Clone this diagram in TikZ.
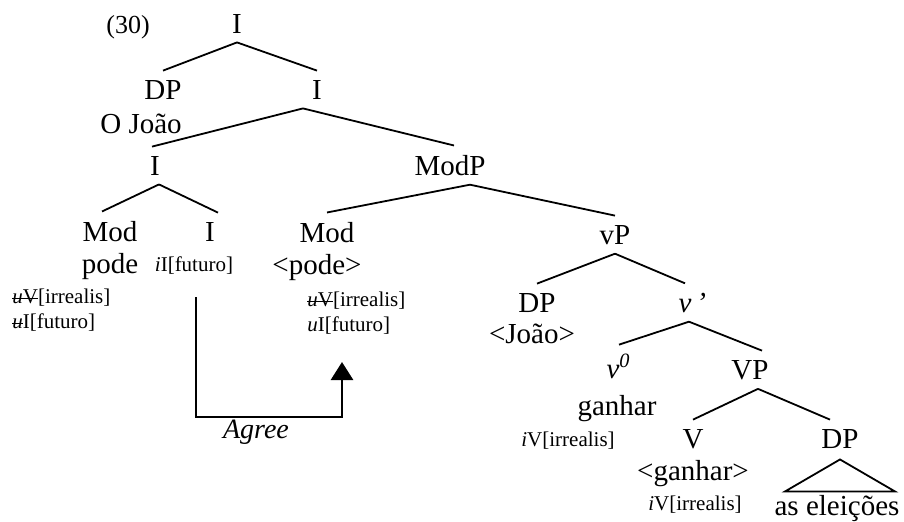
\documentclass[tikz,border=0pt]{standalone}
\usepackage{fontspec}
\setmainfont{Liberation Serif}
\usetikzlibrary{positioning,arrows.meta}
\newsavebox{\strkbox}
\newcommand{\strk}[1]{\sbox{\strkbox}{#1}\rlap{\rule[0.45ex]{\wd\strkbox}{0.5pt}}\usebox{\strkbox}}

\begin{document}
\begin{tikzpicture}[x=0.5pt, y=-0.5pt,
    cat/.style={font=\fontsize{14.5}{17}\selectfont, inner sep=4.5pt, anchor=base},
    lex/.style={font=\fontsize{14.5}{17}\selectfont, inner sep=1pt, anchor=base},
    feat/.style={font=\fontsize{10.5}{12}\selectfont, inner sep=1pt, anchor=base},
    branch/.style={line width=0.9pt},
    agree/.style={line width=1.4pt, -{Triangle[length=9pt,width=11pt]}}]
\useasboundingbox (0,0) rectangle (904,521);

% Top of the tree
\node[cat, font=\fontsize{13}{15}\selectfont] (ex) at (128,33) {(30)};
\node[cat] (I0) at (237,33) {I};
\node[cat] (DPs) at (163,99) {DP};
\node[lex] (joao) at (141,133) {O João};
\node[cat] (I1) at (317,99) {I};
\node[cat] (I2) at (155,175) {I};
\node[cat] (ModP) at (450,175) {ModP};

% Left part
\node[cat] (Mod1) at (110,241) {Mod};
\node[lex] (pode1) at (110,273) {pode};
\node[feat, anchor=base west] (f1a) at (10,303) {\strk{\textit{u}V}[irrealis]};
\node[feat, anchor=base west] (f1b) at (10,328) {\strk{\textit{u}}I[futuro]};
\node[cat] (I3) at (210,241) {I};
\node[feat] (fI3) at (194,271) {\textit{i}I[futuro]};
\node[cat] (Mod2) at (327,242) {Mod};
\node[lex] (pode2) at (317,274) {<pode>};
\node[feat, anchor=base west] (f2a) at (305,306) {\strk{\textit{u}V}[irrealis]};
\node[feat, anchor=base west] (f2b) at (305,331) {\textit{u}I[futuro]};

% Right part
\node[cat] (vP) at (615,244) {vP};
\node[cat] (DPj) at (537,312) {DP};
\node[lex] (joao2) at (532,343) {<João>};
\node[cat] (vbar) at (685,312) {\textit{v}\rlap{\,\textit{’}}};
\node[cat] (v0) at (613,378) {\textit{v}\rlap{\textsuperscript{\textit{0}}}};
\node[lex] (ganhar) at (617,415) {ganhar};
\node[feat] (f3) at (568,446) {\textit{i}V[irrealis]};
\node[cat] (VP) at (750,379) {VP};
\node[cat] (V) at (693,448) {V};
\node[lex] (ganhar2) at (693,480) {<ganhar>};
\node[feat] (f4) at (695,510) {\textit{i}V[irrealis]};
\node[cat] (DPe) at (840,448) {DP};
\node[lex] (eleicoes) at (837,515) {as eleições};

% Branches
\draw[branch] (I0.south) -- (DPs.north);
\draw[branch] (I0.south) -- (I1.north);
\draw[branch] ([xshift=-7pt]I1.south) -- ([xshift=-1.5pt]I2.north);
\draw[branch] ([xshift=-7pt]I1.south) -- ([xshift=2pt]ModP.north);
\draw[branch] ([xshift=2pt]I2.south) -- ([xshift=-4pt]Mod1.north);
\draw[branch] ([xshift=2pt]I2.south) -- ([xshift=4pt]I3.north);
\draw[branch] ([xshift=10pt]ModP.south) -- (Mod2.north);
\draw[branch] ([xshift=10pt]ModP.south) -- (vP.north);
\draw[branch] (vP.south) -- (DPj.north);
\draw[branch] (vP.south) -- (vbar.north);
\draw[branch] ([xshift=2pt]vbar.south) -- ([xshift=3pt]v0.north);
\draw[branch] ([xshift=2pt]vbar.south) -- ([xshift=6pt]VP.north);
\draw[branch] ([xshift=4pt]VP.south) -- (V.north);
\draw[branch] ([xshift=4pt]VP.south) -- ([xshift=-5pt]DPe.north);
\draw[branch] ([yshift=-1pt]DPe.south) -- ++(-55,32) -- ++(110,0) -- cycle;

% Agree
\coordinate (agS) at (196,297);
\coordinate (agE) at (342,362);
\draw[agree] (agS) -- (196,417) -| (agE);
\node[font=\fontsize{14}{16}\selectfont\itshape, anchor=base] (ag) at (256,438) {Agree};
\end{tikzpicture}
\end{document}
